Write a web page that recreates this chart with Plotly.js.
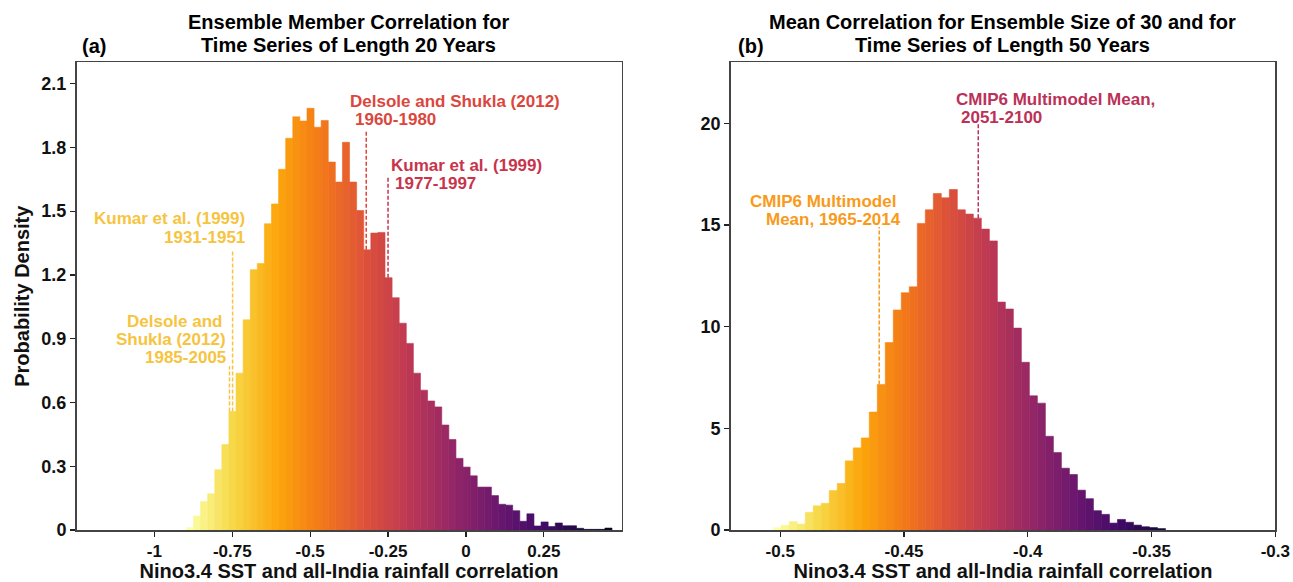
<!DOCTYPE html>
<html>
<head>
<meta charset="utf-8">
<script src="https://cdn.plot.ly/plotly-3.0.1.min.js"></script>
<style>
  html, body { margin: 0; padding: 0; background: #ffffff; }
  #chart { width: 1293px; height: 582px; }
</style>
</head>
<body>
<div id="chart"></div>
<script>
// ---------------- DATA ----------------
// Panel (a): ensemble member correlation, 20-year series (probability density per bin)
const leftBinStart = -0.8973;
const leftBinWidth = 0.02277;
const leftDensity = [0.011, 0.066, 0.134, 0.170, 0.284, 0.402, 0.557, 0.738, 0.989, 1.225,
  1.254, 1.441, 1.534, 1.697, 1.843, 1.944, 1.924, 1.984, 1.895, 1.927,
  1.731, 1.637, 1.824, 1.637, 1.503, 1.318, 1.397, 1.400, 1.187, 1.093,
  0.973, 0.878, 0.738, 0.658, 0.607, 0.579, 0.494, 0.426, 0.337, 0.296,
  0.255, 0.202, 0.202, 0.162, 0.121, 0.117, 0.091, 0.041, 0.076, 0.019,
  0.038, 0.016, 0.033, 0.020, 0.020, 0.008, 0.003, 0.003, 0.003, 0.009];

// Panel (b): mean correlation, ensemble size 30, 50-year series
const rightBinStart = -0.50283;
const rightBinWidth = 0.003234;
const rightDensity = [0.11, 0.23, 0.41, 0.29, 0.87, 1.19, 1.31, 1.94, 2.29, 3.40,
  4.04, 4.53, 5.80, 7.16, 9.22, 10.82, 11.67, 11.96, 15.08, 15.75,
  16.55, 16.34, 16.75, 15.75, 15.54, 15.34, 14.80, 14.22, 11.21, 10.87,
  9.93, 8.25, 6.60, 6.24, 4.61, 3.81, 3.04, 2.73, 1.96, 1.54,
  0.95, 0.77, 0.34, 0.52, 0.38, 0.24, 0.16, 0.12, 0.07];

// Observed reference correlations (x values)
const leftRefNames = ['Delsole and Shukla (2012) 1985-2005', 'Kumar et al. (1999) 1931-1951',
                      'Delsole and Shukla (2012) 1960-1980', 'Kumar et al. (1999) 1977-1997'];
const leftRefValues = [-0.759, -0.749, -0.32, -0.25];
const rightRefNames = ['CMIP6 Multimodel Mean, 1965-2014', 'CMIP6 Multimodel Mean, 2051-2100'];
const rightRefValues = [-0.46, -0.42];

// Tick labels
const leftXTicks = ['-1', '-0.75', '-0.5', '-0.25', '0', '0.25'];
const leftYTicks = ['0', '0.3', '0.6', '0.9', '1.2', '1.5', '1.8', '2.1'];
const rightXTicks = ['-0.5', '-0.45', '-0.4', '-0.35', '-0.3'];
const rightYTicks = ['0', '5', '10', '15', '20'];

// ---------------- STYLE ----------------
const inferno = [
  [0.0, '#000004'], [0.1, '#160b39'], [0.2, '#420a68'], [0.3, '#6a176e'],
  [0.4, '#932667'], [0.5, '#bc3754'], [0.6, '#dd513a'], [0.7, '#f37819'],
  [0.8, '#fca50a'], [0.9, '#f6d746'], [1.0, '#fcffa4']
];
const FONT = 'Liberation Sans, Arial, Helvetica, sans-serif';
const YELLOW = '#f6c43f', RED1 = '#db473d', RED2 = '#c8344c', ORANGE = '#f99a1a', CRIMSON = '#bb3158';

function centers(start, width, n) { return Array.from({length: n}, (_, i) => start + (i + 0.5) * width); }
function shades(n, hi, lo) { return Array.from({length: n}, (_, i) => hi - (hi - lo) * i / (n - 1)); }
function heightAt(x, start, width, vals) { const i = Math.floor((x - start) / width); return vals[Math.max(0, Math.min(vals.length - 1, i))]; }

function barTrace(start, width, vals, hi, lo, xa, ya) {
  const t = shades(vals.length, hi, lo);
  return {
    type: 'bar', x: centers(start, width, vals.length), y: vals, width: width,
    xaxis: xa, yaxis: ya, hoverinfo: 'x+y', showlegend: false,
    marker: { color: t, colorscale: inferno, cmin: 0, cmax: 1,
              line: { color: t, colorscale: inferno, cmin: 0, cmax: 1, width: 0.6 } }
  };
}

const data = [
  barTrace(leftBinStart, leftBinWidth, leftDensity, 1.0, 0.05, 'x', 'y'),
  barTrace(rightBinStart, rightBinWidth, rightDensity, 1.0, 0.10, 'x2', 'y2')
];

// Dashed reference lines
const leftRefTop = [0.77, 1.31, 1.875, 1.657];
const leftRefColor = [YELLOW, YELLOW, RED1, RED2];
const rightRefTop = [14.9, 20.0];
const rightRefColor = [ORANGE, CRIMSON];
const shapes = [];
leftRefValues.forEach((v, i) => shapes.push({
  type: 'line', xref: 'x', yref: 'y', x0: v, x1: v,
  y0: heightAt(v, leftBinStart, leftBinWidth, leftDensity), y1: leftRefTop[i],
  line: { color: leftRefColor[i], width: 1.5, dash: '4px,2px' }
}));
rightRefValues.forEach((v, i) => shapes.push({
  type: 'line', xref: 'x2', yref: 'y2', x0: v, x1: v,
  y0: heightAt(v, rightBinStart, rightBinWidth, rightDensity), y1: rightRefTop[i],
  line: { color: rightRefColor[i], width: 1.5, dash: '4px,2px' }
}));

// Text labels (one annotation per line)
function label(text, x, y, anchor, color, xr, yr) {
  return { text: text, x: x, y: y, xref: xr, yref: yr, xanchor: anchor, yanchor: 'middle',
           showarrow: false, font: { family: FONT, size: 17, color: color, weight: 'bold' } };
}
const annotations = [
  label('Kumar et al. (1999)', -0.7036, 1.464, 'right', YELLOW, 'x', 'y'),
  label('1931-1951', -0.7036, 1.375, 'right', YELLOW, 'x', 'y'),
  label('Delsole and', -0.7765, 0.979, 'right', YELLOW, 'x', 'y'),
  label('Shukla (2012)', -0.7627, 0.895, 'right', YELLOW, 'x', 'y'),
  label('1985-2005', -0.7627, 0.810, 'right', YELLOW, 'x', 'y'),
  label('Delsole and Shukla (2012)', -0.3774, 2.015, 'left', RED1, 'x', 'y'),
  label('1960-1980', -0.3633, 1.930, 'left', RED1, 'x', 'y'),
  label('Kumar et al. (1999)', -0.2468, 1.714, 'left', RED2, 'x', 'y'),
  label('1977-1997', -0.2330, 1.629, 'left', RED2, 'x', 'y'),
  label('CMIP6 Multimodel', -0.45226, 16.15, 'right', ORANGE, 'x2', 'y2'),
  label('Mean, 1965-2014', -0.45024, 15.25, 'right', ORANGE, 'x2', 'y2'),
  label('CMIP6 Multimodel Mean,', -0.42962, 21.19, 'left', CRIMSON, 'x2', 'y2'),
  label('2051-2100', -0.42772, 20.30, 'left', CRIMSON, 'x2', 'y2')
];
function paperText(text, x, y, anchor, size) {
  return { text: text, x: x, y: y, xref: 'paper', yref: 'paper', xanchor: anchor, yanchor: 'middle',
           showarrow: false, font: { family: FONT, size: size, color: '#000', weight: 'bold' } };
}
annotations.push(
  paperText('Ensemble Member Correlation for', 0.2699, 1 - 22 / 582, 'center', 20),
  paperText('Time Series of Length 20 Years', 0.2699, 1 - 45 / 582, 'center', 20),
  paperText('Mean Correlation for Ensemble Size of 30 and for', 0.7757, 1 - 22 / 582, 'center', 20),
  paperText('Time Series of Length 50 Years', 0.7757, 1 - 45 / 582, 'center', 20),
  paperText('(a)', 80 / 1293, 1 - 46 / 582, 'left', 20),
  paperText('(b)', 736 / 1293, 1 - 46 / 582, 'left', 20)
);

function xAxis(domain, range, ticks, anchor) {
  return {
    domain: domain, range: range, anchor: anchor,
    tickvals: ticks.map(Number), ticktext: ticks,
    ticks: 'outside', ticklen: 5, tickwidth: 1.2, tickcolor: '#222',
    showline: true, linecolor: '#444', linewidth: 1.5, mirror: true,
    showgrid: false, zeroline: false,
    tickfont: { family: FONT, size: 17, color: '#111', weight: 'bold' },
    title: { text: 'Nino3.4 SST and all-India rainfall correlation', standoff: 6,
             font: { family: FONT, size: 20, color: '#111', weight: 'bold' } }
  };
}
function yAxis(range, ticks, anchor, title) {
  return {
    domain: [1 - 530 / 582, 1 - 62.4 / 582], range: range, anchor: anchor,
    tickvals: ticks.map(Number), ticktext: ticks,
    ticks: 'outside', ticklen: 5, tickwidth: 1.2, tickcolor: '#222',
    showline: true, linecolor: '#444', linewidth: 1.5, mirror: true,
    showgrid: false, zeroline: false,
    tickfont: { family: FONT, size: 18, color: '#111', weight: 'bold' },
    title: { text: title, standoff: 6, font: { family: FONT, size: 20, color: '#111', weight: 'bold' } }
  };
}

const layout = {
  width: 1293, height: 582,
  margin: { l: 0, r: 0, t: 0, b: 0 },
  paper_bgcolor: '#ffffff', plot_bgcolor: '#ffffff',
  bargap: 0, barmode: 'overlay',
  xaxis: xAxis([76.5 / 1293, 621.7 / 1293], [-1.25, 0.5], leftXTicks, 'y'),
  yaxis: yAxis([0, 2.2], leftYTicks, 'x', 'Probability Density'),
  xaxis2: xAxis([730.7 / 1293, 1275.3 / 1293], [-0.52, -0.3], rightXTicks, 'y2'),
  yaxis2: yAxis([0, 23], rightYTicks, 'x2', ''),
  shapes: shapes,
  annotations: annotations
};

Plotly.newPlot('chart', data, layout, { displayModeBar: false, staticPlot: true });
</script>
</body>
</html>
